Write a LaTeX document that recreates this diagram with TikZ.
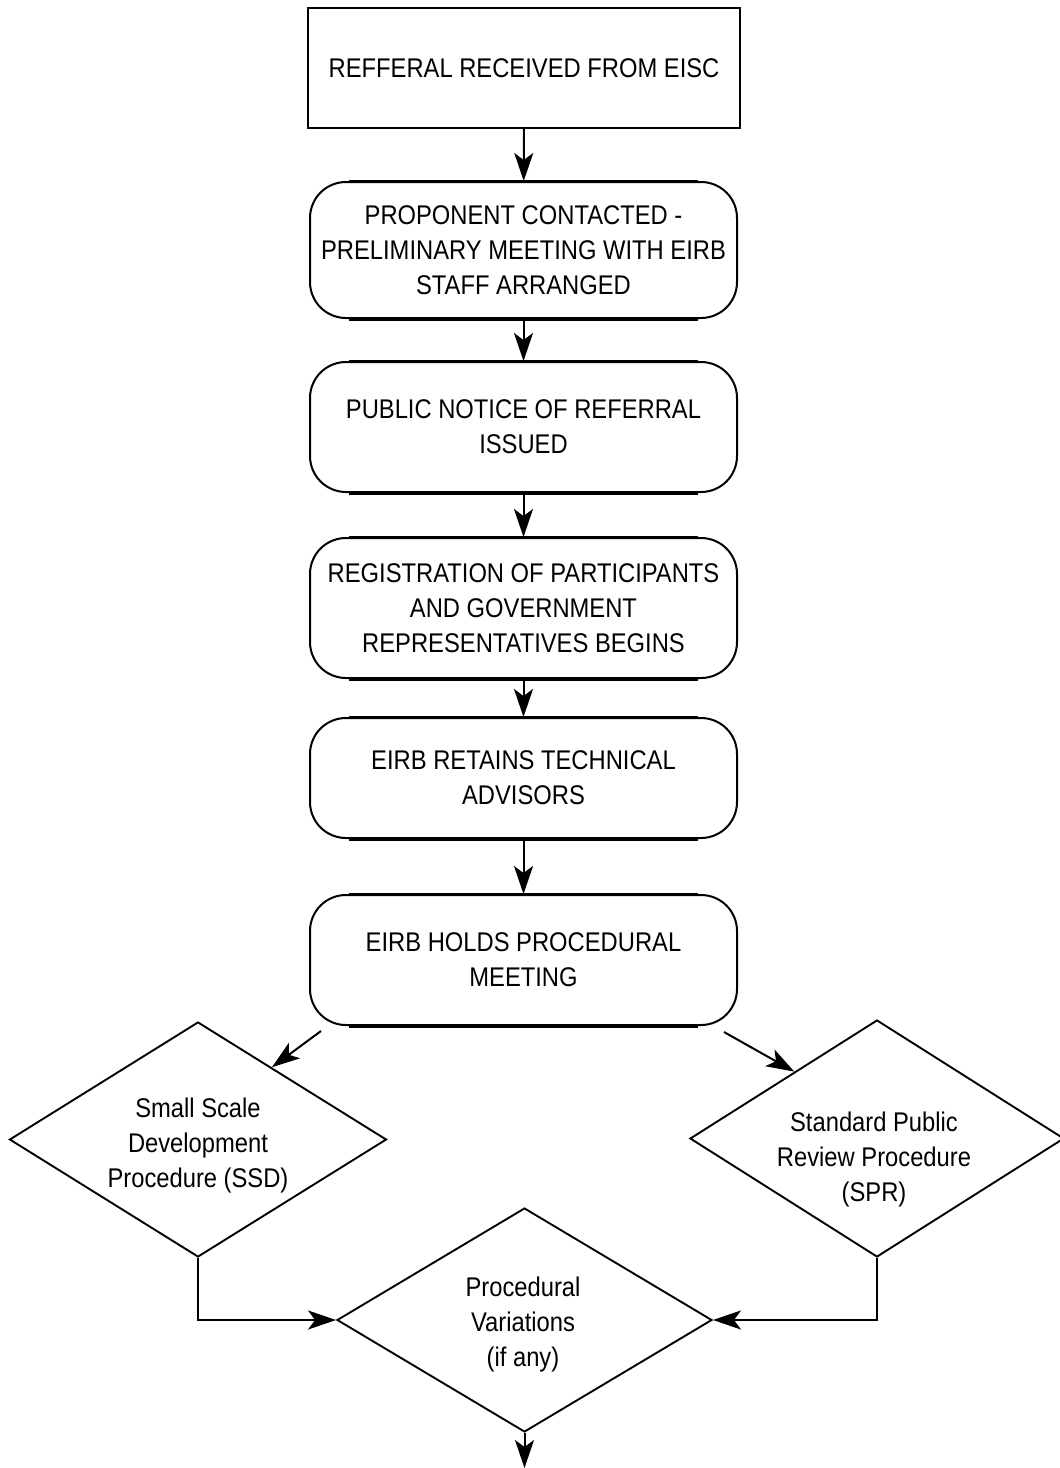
\documentclass[tikz,border=0pt]{standalone}
\usepackage{fontspec}
\setmainfont[FakeStretch=0.88]{Liberation Sans}
\usetikzlibrary{shapes.geometric,arrows.meta,calc}
\tikzset{
  txt/.style={align=center, inner sep=0pt, font=\fontsize{27}{35}\selectfont},
  rectbox/.style={txt, draw, line width=2.2pt, minimum width=432pt},
  rbox/.style={txt, draw, line width=2pt, rounded corners=36pt, minimum width=427pt},
  dia/.style={draw, diamond, line width=1.9pt, inner sep=0pt},
  arr/.style={-{Stealth[length=28pt,width=19pt,inset=7pt]}, line width=2pt},
}
\begin{document}
\begin{tikzpicture}[x=1pt,y=-1pt]
\useasboundingbox (0,0) rectangle (1060,1468);
\node[rectbox, minimum height=120pt] (b1) at (524,68) {REFFERAL RECEIVED FROM EISC};
\node[rbox, minimum height=136pt] (b2) at (523.5,250) {PROPONENT CONTACTED -\\PRELIMINARY MEETING WITH EIRB\\STAFF ARRANGED};
\node[rbox, minimum height=130pt] (b3) at (523.5,427) {PUBLIC NOTICE OF REFERRAL\\ISSUED};
\node[rbox, minimum height=140pt] (b4) at (523.5,608) {REGISTRATION OF PARTICIPANTS\\AND GOVERNMENT\\REPRESENTATIVES BEGINS};
\node[rbox, minimum height=120pt] (b5) at (523.5,778) {EIRB RETAINS TECHNICAL\\ADVISORS};
\node[rbox, minimum height=130pt] (b6) at (523.5,960) {EIRB HOLDS PROCEDURAL\\MEETING};
\foreach \b in {b2,b3,b4,b5,b6}{
  \draw[line width=3.4pt] ([xshift=40pt]\b.south west) -- ([xshift=-40pt]\b.south east);
  \draw[line width=2.8pt] ([xshift=40pt]\b.north west) -- ([xshift=-40pt]\b.north east);
}
\node[dia, minimum width=377pt, minimum height=235pt] (ssd) at (198,1139.5) {};
\node[txt] (ssdt) at (198,1145) {Small Scale\\Development\\Procedure (SSD)};
\node[dia, minimum width=374pt, minimum height=237pt] (spr) at (877,1138.5) {};
\node[txt] (sprt) at (874,1159) {Standard Public\\Review Procedure\\(SPR)};
\node[dia, minimum width=375pt, minimum height=224pt] (pv) at (524.5,1320) {};
\node[txt] (pvt) at (523,1325) {Procedural\\Variations\\(if any)};
\coordinate (end) at (524.5,1468);
\draw[arr] (b1) -- (b2);
\draw[arr] (b2) -- (b3);
\draw[arr] (b3) -- (b4);
\draw[arr] (b4) -- (b5);
\draw[arr] (b5) -- (b6);
\draw[arr] ([xshift=12pt,yshift=-5pt]b6.south west) -- ($(ssd.north)!0.39!(ssd.east)$);
\draw[arr] ([xshift=-14pt,yshift=-6pt]b6.south east) -- ($(spr.west)!0.56!(spr.north)$);
\draw[arr] (ssd.south) |- (pv.west);
\draw[arr] (spr.south) |- (pv.east);
\draw[arr] (pv.south) -- (end);
\end{tikzpicture}
\end{document}
